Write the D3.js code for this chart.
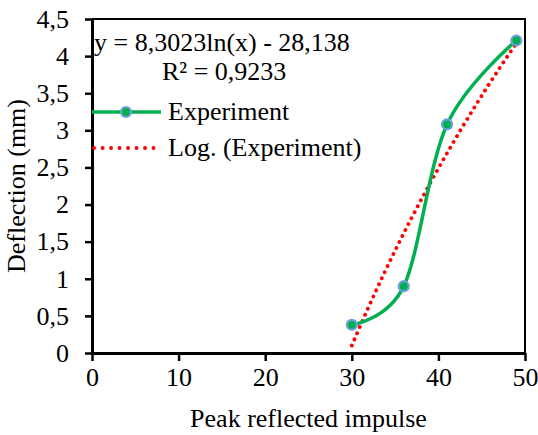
<!DOCTYPE html>
<html>
<head>
<meta charset="utf-8">
<script src="https://cdn.jsdelivr.net/npm/d3@7"></script>
<style>
  html, body { margin: 0; padding: 0; background: #fff; }
</style>
</head>
<body>
<svg id="chart" width="538" height="435"></svg>
<script>
// ---- data ----
const impulse = [30, 36, 41, 49];
const deflection = [0.38, 0.90, 3.08, 4.21];
const trendCoefficients = [8.3023, -28.138]; // y = a*ln(x) + b
const xTicks = [0, 10, 20, 30, 40, 50];
const yTicks = [0, 0.5, 1, 1.5, 2, 2.5, 3, 3.5, 4, 4.5];
const equationText = "y = 8,3023ln(x) - 28,138";
const r2Text = "R² = 0,9233";
const seriesName = "Experiment";
const trendName = "Log. (Experiment)";
const xTitle = "Peak reflected impulse";
const yTitle = "Deflection (mm)";

// ---- layout ----
const FONT = "Liberation Serif";
const FS = 26;
const svg = d3.select("#chart");
const m = { left: 92, right: 525, top: 19, bottom: 353 };
const x = d3.scaleLinear().domain([0, 50]).range([m.left, m.right]);
const y = d3.scaleLinear().domain([0, 4.5]).range([m.bottom, m.top]);
const fmt = d => String(d).replace(".", ",");
const txt = (sel) => sel.attr("font-family", FONT).style("font-family", FONT)
  .attr("font-size", FS).attr("fill", "#000");

// plot border (top/right)
svg.append("path")
  .attr("d", `M${m.left},${m.top}H${m.right}V${m.bottom}`)
  .attr("fill", "none").attr("stroke", "#000").attr("stroke-width", 2);

// axes
const xAxis = svg.append("g").attr("transform", `translate(0,${m.bottom})`)
  .call(d3.axisBottom(x).tickValues(xTicks).tickSize(8).tickSizeOuter(0).tickPadding(6).tickFormat(fmt));
const yAxis = svg.append("g").attr("transform", `translate(${m.left},0)`)
  .call(d3.axisLeft(y).tickValues(yTicks).tickSize(7).tickSizeOuter(0).tickPadding(16).tickFormat(fmt));
[xAxis, yAxis].forEach(g => {
  g.attr("font-family", FONT).attr("font-size", FS);
  g.select(".domain").attr("stroke", "#000").attr("stroke-width", 3);
  g.selectAll(".tick line").attr("stroke", "#000").attr("stroke-width", 2.5);
  g.selectAll(".tick text").call(txt);
});
xAxis.selectAll(".tick text").attr("dy", "0.72em");

// axis titles
svg.append("text").attr("x", (m.left + m.right) / 2).attr("y", 427)
  .attr("text-anchor", "middle").call(txt).text(xTitle);
svg.append("text").attr("transform", `translate(25,${(m.top + m.bottom) / 2}) rotate(-90)`)
  .attr("text-anchor", "middle").call(txt).text(yTitle);

// trendline (logarithmic fit)
const [ta, tb] = trendCoefficients;
const xs = d3.range(impulse[0], impulse[impulse.length - 1] + 0.001, 0.25);
const trendPts = xs.map(v => [v, ta * Math.log(v) + tb]);
svg.append("path")
  .datum(trendPts)
  .attr("d", d3.line().x(d => x(d[0])).y(d => y(d[1])))
  .attr("fill", "none").attr("stroke", "#ff0000").attr("stroke-width", 3.8)
  .attr("stroke-linecap", "round").attr("stroke-dasharray", "0.1 6.6");

// experiment series (smoothed)
const pts = impulse.map((v, i) => [v, deflection[i]]);
svg.append("path")
  .datum(pts)
  .attr("d", d3.line().x(d => x(d[0])).y(d => y(d[1])).curve(d3.curveCardinal.tension(0)))
  .attr("fill", "none").attr("stroke", "#00b050").attr("stroke-width", 3.5);
svg.selectAll("circle.pt").data(pts).join("circle").attr("class", "pt")
  .attr("cx", d => x(d[0])).attr("cy", d => y(d[1])).attr("r", 5)
  .attr("fill", "#00b050").attr("stroke", "#6fa0dc").attr("stroke-width", 2.2);

// equation label
svg.append("text").attr("x", 94).attr("y", 51).call(txt).text(equationText);
svg.append("text").attr("x", 162).attr("y", 80).call(txt).text(r2Text);

// legend
const lg = svg.append("g");
lg.append("line").attr("x1", 92).attr("x2", 161).attr("y1", 112).attr("y2", 112)
  .attr("stroke", "#00b050").attr("stroke-width", 3.5);
lg.append("circle").attr("cx", 126).attr("cy", 112).attr("r", 5)
  .attr("fill", "#00b050").attr("stroke", "#6fa0dc").attr("stroke-width", 2.2);
lg.append("text").attr("x", 168).attr("y", 120).call(txt).text(seriesName);
lg.append("line").attr("x1", 94).attr("x2", 161).attr("y1", 148).attr("y2", 148)
  .attr("stroke", "#ff0000").attr("stroke-width", 3.8)
  .attr("stroke-linecap", "round").attr("stroke-dasharray", "0.1 8.4");
lg.append("text").attr("x", 168).attr("y", 156).call(txt).text(trendName);
</script>
</body>
</html>
